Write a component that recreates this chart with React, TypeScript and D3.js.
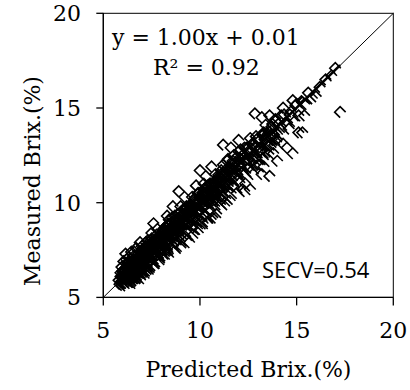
import * as d3 from "d3";

// predicted vs measured Brix (%)
const predicted = [
  5.8, 5.9, 5.85, 6.0, 6.0, 6.1, 6.1, 6.2, 6.2, 6.25, 6.3, 6.3, 6.35, 6.4, 6.4, 6.45, 6.5, 6.5, 6.55, 6.6, 6.6, 6.65, 6.7, 6.7, 6.75, 6.8, 6.8,
  5.95, 6.05, 6.15, 6.2, 6.3, 6.45, 6.5, 6.6, 6.7, 6.1, 6.35, 6.55, 6.65, 6.75, 6.9, 7.0, 6.9,
  6.9, 6.95, 7.0, 7.05, 7.1, 7.1, 7.15, 7.2, 7.25, 7.3, 7.3, 7.35, 7.4, 7.45, 7.5, 7.5, 7.55, 7.6, 7.65, 7.7, 7.75, 7.8, 7.8, 7.85, 7.9, 7.95, 8.0, 8.0,
  7.2, 7.4, 7.6, 7.9, 7.0, 7.3, 7.5, 6.9, 7.6, 7.1, 7.7, 7.4,
  8.05, 8.1, 8.1, 8.15, 8.2, 8.25, 8.3, 8.35, 8.4, 8.45, 8.5, 8.5, 8.55, 8.6, 8.65, 8.7, 8.75, 8.8, 8.85, 8.9, 8.9, 8.95, 9.0, 9.05, 9.1, 9.15, 9.2, 9.25,
  9.3, 9.35, 9.4, 9.45, 9.5, 8.3, 8.6, 8.9, 9.2, 8.2, 8.6, 9.0, 9.3, 8.4, 8.8, 9.1,
  9.55, 9.6, 9.65, 9.7, 9.75, 9.8, 9.85, 9.9, 9.95, 10.0, 10.0, 10.05, 10.1, 10.15, 10.2, 10.25, 10.3, 10.35, 10.4, 10.45, 10.5, 10.55, 10.6, 10.65,
  10.7, 10.75, 10.8, 10.85, 10.9, 10.95, 10.0, 10.3, 10.6, 9.8, 9.9, 10.4, 10.8, 10.2, 9.6,
  11.0, 11.05, 11.1, 11.15, 11.2, 11.25, 11.3, 11.35, 11.4, 11.45, 11.5, 11.55, 11.6, 11.7, 11.75, 11.8, 11.9, 11.95, 12.0, 12.1, 12.15, 12.2, 12.3,
  12.35, 12.4, 11.2, 11.6, 12.0, 11.4, 12.3,
  12.5, 12.55, 12.6, 12.7, 12.75, 12.8, 12.84, 12.9, 13.0, 13.1, 13.2, 13.25, 13.35, 13.4, 13.5, 13.6, 13.7, 13.8, 13.9, 13.95, 13.2, 13.6, 13.3,
  14.0, 14.1, 14.2, 14.3, 14.4, 14.5, 14.6, 14.7, 14.8, 14.9, 15.0, 15.1, 15.3, 15.3, 15.4, 15.5, 15.6, 15.8, 16.0, 14.3, 14.8,
  16.2, 16.5, 16.8, 17.0, 17.25,
  // dense core near the 1:1 line
  5.9, 5.95, 6.0, 6.05, 6.1, 6.15, 6.2, 6.25, 6.3, 6.35, 6.4, 6.45, 6.5, 6.55, 6.6, 6.65, 6.7, 6.75, 6.8, 6.85, 6.9, 6.95,
  7.0, 7.05, 7.1, 7.15, 7.2, 7.25, 7.3, 7.35, 7.4, 7.45, 7.5, 7.55, 7.6, 7.65, 7.7, 7.75, 7.8, 7.85, 7.9, 7.95, 8.0,
  5.92, 6.02, 6.12, 6.22, 6.32, 6.42, 6.52, 6.62, 6.72, 6.82, 6.92, 7.02, 7.12, 7.22, 7.32, 7.42, 7.52, 7.62, 7.72,
  7.82, 7.92, 8.02, 8.12, 8.22, 8.32, 8.42,
  8.05, 8.12, 8.18, 8.25, 8.31, 8.38, 8.44, 8.5, 8.57, 8.63, 8.7, 8.76, 8.83, 8.9, 8.96, 9.02, 9.09, 9.15, 9.22, 9.28,
  9.35, 9.41, 9.48, 9.54, 9.6, 9.67, 9.73, 9.8, 9.86, 9.93, 10.0, 10.06, 10.13, 10.19, 10.26, 10.32, 10.39, 10.45,
  10.52, 10.58, 10.65, 10.71, 10.78, 10.84, 10.91, 10.97,
  11.05, 11.15, 11.25, 11.35, 11.45, 11.55, 11.65, 11.75, 11.85, 11.95, 12.05, 12.15, 12.25, 12.35, 12.45, 12.55,
  12.65, 12.75, 12.85, 12.95, 13.05, 13.15, 13.25, 13.35, 13.45, 13.55, 13.65, 13.75, 13.85, 13.95, 14.05, 14.2,
  14.35, 14.5, 14.65, 14.8, 14.95, 15.1, 15.25, 15.4,
  6.03, 6.09, 6.16, 6.23, 6.29, 6.36, 6.43, 6.49, 6.56, 6.63, 6.69, 6.76, 6.83, 6.89, 6.96, 7.03, 7.09, 7.16, 7.23, 7.29,
  7.36, 7.43, 7.49, 7.56, 7.63, 7.69, 7.76, 7.83, 7.89, 7.96, 8.03, 8.09, 8.16, 8.23, 8.29, 8.36, 8.43, 8.49, 8.56, 8.63,
  8.69, 8.76, 8.83, 8.89, 8.96, 9.03, 9.09, 9.16, 9.23, 9.29, 9.36, 9.43, 9.49, 9.56, 9.63, 9.69, 9.76, 9.83, 9.89, 9.96,
  10.03, 10.09, 10.16, 10.23, 10.29, 10.36, 10.43, 10.49, 10.56, 10.63, 10.69, 10.76, 10.83, 10.89, 10.96, 11.03, 11.1,
  11.2, 11.3, 11.4, 11.5, 11.6, 11.7, 11.8, 11.9, 12.0, 12.1, 12.2, 12.3, 12.4, 12.5, 12.6, 12.7, 12.8, 12.9, 13.0, 13.1,
  13.2, 13.3, 13.4, 13.5, 13.6, 13.7, 13.8, 13.9, 14.0,
  5.98, 6.04, 6.11, 6.17, 6.24, 6.31, 6.37, 6.44, 6.51, 6.57, 6.64, 6.71, 6.77, 6.84, 6.91, 6.97, 7.04, 7.11, 7.17, 7.24,
  7.31, 7.37, 7.44, 7.51, 7.57, 7.64, 7.71, 7.77, 7.84, 7.91, 7.97, 8.04, 8.11, 8.17, 8.24, 8.31, 8.37, 8.44, 8.51, 8.57,
  8.64, 8.71, 8.77, 8.84, 8.91, 8.97, 9.04, 9.11, 9.17, 9.24, 9.31, 9.37, 9.44, 9.51, 9.57, 9.64, 9.71, 9.77, 9.84, 9.91,
  9.97, 10.04, 10.11, 10.17, 10.24, 10.31, 10.37, 10.44, 10.51, 10.57, 10.64, 10.71, 10.77, 10.84, 10.91, 10.97, 11.05,
  11.15, 11.25, 11.35, 11.45, 11.55, 11.65, 11.75, 11.85, 11.95, 12.05, 12.15, 12.25,
  // lower side of the band
  6.5, 6.65, 6.8, 6.95, 7.1, 7.25, 7.4, 7.55, 7.7, 7.85, 8.0, 8.15, 8.3, 8.45, 8.6, 8.75, 8.9, 9.05, 9.2, 9.35, 9.5,
  9.65, 9.8, 9.95, 10.1, 10.25, 10.4, 10.55, 10.7, 10.85, 11.0, 11.15, 11.3, 11.45, 11.6, 11.75, 11.9, 12.05, 12.2,
  12.35, 12.5, 12.65, 12.8, 12.95, 13.1, 13.25, 13.4, 13.55, 13.7, 13.85, 14.0,
  // upper side of the band
  6.3, 6.6, 6.9, 7.2, 7.5, 7.8, 8.1, 8.4, 8.7, 9.0, 9.3, 9.6, 9.9, 10.2, 10.5, 10.8, 11.1, 11.4, 11.7, 12.0, 12.3, 12.6,
];
const measured = [
  5.9, 6.3, 5.7, 6.1, 5.8, 6.5, 6.0, 5.9, 6.3, 6.8, 6.1, 5.8, 6.4, 6.0, 6.7, 6.2, 5.9, 6.5, 7.0, 6.2, 6.0, 6.6, 6.3, 5.9, 6.9, 6.4, 6.1,
  6.6, 6.9, 7.3, 7.0, 7.1, 7.4, 6.9, 7.2, 7.6, 5.75, 5.75, 5.8, 5.85, 6.0, 6.0, 6.1, 6.3,
  6.7, 7.1, 6.5, 7.4, 6.8, 6.3, 7.0, 7.7, 6.6, 7.2, 6.4, 7.5, 6.9, 8.0, 7.3, 6.7, 7.8, 7.1, 6.6, 7.5, 8.3, 7.0, 7.7, 6.9, 7.4, 8.1, 7.2, 7.8,
  6.2, 6.4, 6.5, 6.8, 7.7, 8.0, 8.4, 7.9, 8.9, 7.2, 7.2, 7.6,
  8.4, 7.5, 8.0, 7.0, 8.7, 7.8, 8.2, 7.3, 8.9, 8.0, 7.6, 8.5, 9.2, 8.1, 7.4, 8.8, 8.4, 7.9, 9.4, 8.6, 8.0, 9.1, 8.3, 7.7, 9.0, 8.6, 9.7, 8.2,
  8.9, 9.4, 8.5, 7.9, 9.2, 9.3, 9.8, 10.6, 10.3, 7.2, 7.7, 7.6, 8.0, 8.5, 8.6, 9.3,
  8.8, 9.6, 8.3, 10.1, 9.3, 8.7, 9.9, 9.1, 10.5, 9.5, 8.6, 10.2, 9.2, 8.9, 10.7, 9.8, 9.3, 10.4, 8.9, 10.0, 9.6, 11.0, 10.3, 9.2,
  10.8, 9.8, 10.4, 9.4, 11.2, 10.1, 11.7, 11.4, 11.9, 10.9, 8.4, 9.0, 9.2, 10.1, 9.0,
  10.6, 9.9, 11.3, 10.3, 12.0, 10.9, 10.0, 11.6, 10.7, 12.3, 11.0, 10.1, 11.8, 10.9, 12.5, 11.4, 10.5, 12.1, 11.2, 12.8, 11.6, 10.7, 12.2,
  11.0, 12.9, 13.05, 12.9, 13.3, 9.9, 10.6,
  11.8, 12.6, 10.7, 13.1, 11.5, 12.4, 14.7, 13.5, 12.0, 12.9, 11.5, 13.6, 12.4, 14.1, 13.0, 11.4, 13.8, 12.6, 14.3, 13.2, 14.5, 14.6, 11.9,
  12.2, 13.7, 14.6, 13.1, 14.2, 12.9, 13.9, 14.8, 12.6, 14.3, 15.2, 13.7, 13.7, 15.3, 14.6, 15.2, 15.8, 15.5, 15.6, 15.0, 15.4,
  16.1, 16.5, 16.7, 17.1, 14.78,
  // dense core near the 1:1 line
  6.1, 5.65, 6.4, 5.95, 6.1, 5.75, 6.5, 6.05, 6.8, 5.85, 6.5, 6.15, 6.7, 6.45, 7.0, 6.25, 6.7, 7.05, 6.6, 6.95, 6.4, 7.35,
  6.9, 7.25, 6.8, 7.65, 6.8, 7.35, 7.1, 7.65, 6.8, 7.65, 7.4, 7.95, 7.3, 7.65, 8.0, 7.25, 8.0, 7.65, 8.3, 7.55, 8.1,
  5.82, 6.32, 5.62, 6.32, 6.02, 6.82, 6.32, 6.82, 6.32, 7.32, 6.92, 6.72, 7.42, 7.12, 7.72, 6.92, 7.62, 7.42, 8.02,
  7.42, 8.12, 7.92, 8.52, 7.92, 8.42, 7.92,
  8.35, 7.72, 8.28, 8.05, 8.81, 7.88, 8.64, 8.4, 8.97, 8.33, 8.7, 9.06, 8.23, 9.1, 8.76, 9.52, 8.69, 9.25, 8.92, 9.68,
  9.25, 9.61, 8.98, 9.84, 9.6, 9.37, 10.23, 9.6, 9.96, 9.53, 10.3, 9.96, 10.53, 9.69, 10.46, 10.12, 10.89, 10.15,
  10.62, 9.98, 10.95, 10.61, 10.98, 10.44, 11.31, 10.77,
  10.75, 11.55, 11.15, 11.55, 10.95, 11.85, 11.65, 11.35, 12.35, 11.75, 12.15, 11.55, 12.55, 12.25, 12.85, 12.25,
  12.85, 12.25, 12.95, 13.35, 12.85, 12.65, 13.55, 13.35, 13.05, 13.75, 13.55, 14.15, 13.55, 13.35, 14.15, 14.0,
  14.65, 14.1, 14.65, 14.5, 15.15, 14.6, 15.35, 15.2,
  5.83, 6.19, 5.76, 6.53, 6.29, 6.06, 6.63, 5.99, 6.96, 6.53, 6.79, 6.16, 7.13, 6.69, 7.46, 6.63, 7.09, 7.36, 6.93, 7.69,
  6.86, 7.53, 7.29, 7.86, 7.23, 7.69, 7.96, 7.23, 7.99, 7.66, 7.83, 8.19, 7.76, 8.53, 8.29, 8.06, 8.63, 7.99, 8.96, 8.53,
  8.79, 8.16, 9.13, 8.69, 9.46, 8.63, 9.09, 9.36, 8.93, 9.69, 8.86, 9.53, 9.29, 9.86, 9.23, 9.69, 9.96, 9.23, 9.99, 9.66,
  9.83, 10.19, 9.76, 10.53, 10.29, 10.06, 10.63, 9.99, 10.96, 10.53, 10.79, 10.16, 11.13, 10.69, 11.46, 10.63, 11.1,
  11.4, 11.0, 11.8, 11.0, 11.7, 11.5, 12.1, 11.5, 12.0, 12.3, 11.6, 12.4, 12.1, 12.3, 12.7, 12.3, 13.1, 12.9, 12.7, 13.3,
  12.7, 13.7, 13.3, 13.6, 13.0, 14.0, 13.6, 14.4, 13.6,
  6.08, 5.74, 6.41, 5.97, 5.84, 6.51, 6.27, 6.84, 6.21, 6.57, 6.14, 7.01, 6.57, 6.94, 6.51, 7.07, 6.54, 7.41, 6.97, 6.84,
  7.51, 7.27, 7.84, 7.21, 7.57, 7.14, 8.01, 7.57, 7.94, 7.51, 8.07, 7.54, 8.41, 7.97, 7.84, 8.51, 8.27, 8.84, 8.21, 8.57,
  8.14, 9.01, 8.57, 8.94, 8.51, 9.07, 8.54, 9.41, 8.97, 8.84, 9.51, 9.27, 9.84, 9.21, 9.57, 9.14, 10.01, 9.57, 9.94, 9.51,
  10.07, 9.54, 10.41, 9.97, 9.84, 10.51, 10.27, 10.84, 10.21, 10.57, 10.14, 11.01, 10.57, 10.94, 10.51, 11.07, 10.55,
  11.45, 11.05, 10.95, 11.65, 11.45, 12.05, 11.45, 11.85, 11.45, 12.35, 11.95, 12.35,
  // lower side of the band
  5.8, 5.75, 6.0, 6.35, 6.0, 6.35, 6.7, 6.55, 7.1, 7.05, 7.3, 7.15, 7.5, 7.85, 7.5, 7.85, 8.2, 8.05, 8.6, 8.55, 8.8,
  8.65, 9.0, 9.35, 9.0, 9.35, 9.7, 9.55, 10.1, 10.05, 10.3, 10.15, 10.5, 10.85, 10.5, 10.85, 11.2, 11.05, 11.6,
  11.55, 11.8, 11.65, 12.0, 12.35, 12.0, 12.35, 12.7, 12.55, 13.1, 13.05, 13.3,
  // upper side of the band
  6.9, 7.4, 7.4, 7.9, 8.1, 8.6, 8.6, 9.1, 9.3, 9.8, 9.8, 10.3, 10.5, 11.0, 11.0, 11.5, 11.7, 12.2, 12.2, 12.7, 12.9, 13.4,
];

const xTicks = [5, 10, 15, 20];
const yTicks = [5, 10, 15, 20];
const slope = 1.0;
const intercept = 0.01;

const equationText = "y = 1.00x + 0.01";
const r2Text = "R² = 0.92";
const secvText = "SECV=0.54";
const xTitle = "Predicted Brix.(%)";
const yTitle = "Measured Brix.(%)";

export default function App() {
  const width = 410;
  const height = 390;
  const left = 103.3;
  const right = 393.3;
  const top = 13.3;
  const bottom = 297.4;

  const x = d3.scaleLinear().domain([5, 20]).range([left, right]);
  const y = d3.scaleLinear().domain([5, 20]).range([bottom, top]);

  const points = predicted.map((p, i) => [p, measured[i]]);
  const r = 5.5;
  // open diamond, lower-right edge left out as in the original export
  const marker = `M${r},0L0,${-r}L${-r},0L0,${r}`;

  const [xMin, xMax] = d3.extent(predicted) as [number, number];
  const line = d3.line<number>().x((d) => x(d)).y((d) => y(slope * d + intercept));

  const serif = "'DejaVu Serif', serif";

  return (
    <svg
      width={width}
      height={height}
      style={{ position: "absolute", left: 0, top: 0, background: "#fff" }}
    >
      <g fill="none" stroke="#000" strokeWidth={1.6}>
        {points.map((d, i) => (
          <path key={i} d={marker} transform={`translate(${x(d[0])},${y(d[1])})`} />
        ))}
      </g>

      {/* 1:1 line */}
      <line x1={x(5)} y1={y(5)} x2={x(20)} y2={y(20)} stroke="#000" strokeWidth={1} />
      {/* trend line */}
      <path d={line([xMin, xMax]) ?? ""} stroke="#000" strokeWidth={2.6} fill="none" />

      {/* frame */}
      <rect x={left} y={top} width={right - left} height={bottom - top} fill="none" stroke="#000" strokeWidth={1} />
      <line x1={left} y1={top} x2={left} y2={bottom} stroke="#000" strokeWidth={1.3} />
      <line x1={left} y1={bottom} x2={right} y2={bottom} stroke="#000" strokeWidth={1.3} />

      {xTicks.map((t) => (
        <g key={t}>
          <line x1={x(t)} x2={x(t)} y1={bottom} y2={bottom + 8} stroke="#000" strokeWidth={1.3} />
          <text x={x(t)} y={338} textAnchor="middle" fontFamily={serif} fontSize={22}>
            {t}
          </text>
        </g>
      ))}
      {yTicks.map((t) => (
        <g key={t}>
          <line x1={left - 7} x2={left} y1={y(t)} y2={y(t)} stroke="#000" strokeWidth={1.3} />
          <text x={81} y={y(t)} dy="0.36em" textAnchor="end" fontFamily={serif} fontSize={22}>
            {t}
          </text>
        </g>
      ))}

      <text x={248.5} y={377} textAnchor="middle" fontFamily={serif} fontSize={22}>
        {xTitle}
      </text>
      <text
        transform="translate(40,181) rotate(-90)"
        textAnchor="middle"
        fontFamily={serif}
        fontSize={22}
      >
        {yTitle}
      </text>

      <text x={112} y={45} fontFamily={serif} fontSize={22}>
        {equationText}
      </text>
      <text x={153} y={75} fontFamily={serif} fontSize={22}>
        {r2Text}
      </text>
      <text x={262} y={278} fontFamily="'Open Sans', sans-serif" fontSize={22}>
        {secvText}
      </text>
    </svg>
  );
}
